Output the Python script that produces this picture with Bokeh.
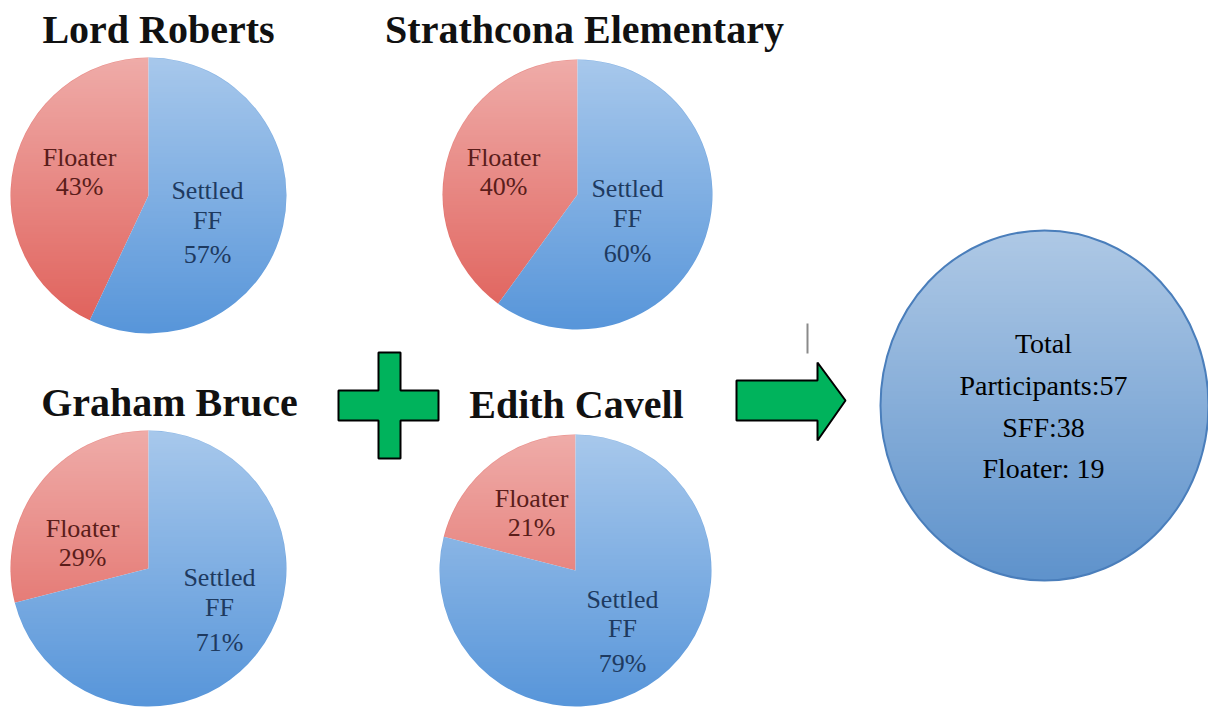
import numpy as np
from bokeh.plotting import figure
from bokeh.models import Range1d
from bokeh.core.properties import value
from bokeh.embed import file_html
from bokeh.resources import INLINE

# ---------------- data ----------------
schools = ["Lord Roberts", "Strathcona Elementary", "Graham Bruce", "Edith Cavell"]
floater_pct = [43, 40, 29, 21]
settled_pct = [57, 60, 71, 79]
floater_label = "Floater"
settled_label = ["Settled", "FF"]
total_participants = 57
total_sff = 38
total_floater = 19

# ---------------- layout (image pixel coords, y downward) ----------------
W, H = 1208, 707
pie_cx = [148, 577, 148, 575]
pie_cy = [195, 194, 568, 570]
pie_r = [138, 135, 138, 136]
title_x = [158, 584, 169, 576]
title_mid = [29, 29, 402, 404]
flo_x = [79, 503, 82, 531]
flo_mid = [157, 157, 528, 498]
set_x = [207, 627, 219, 622]
set_mid = [[190, 220, 254], [188, 218, 253], [577, 607, 642], [599, 628, 663]]
LABEL_GAP = 29

RED = "#e0605a"
BLUE = "#5896da"
RED_TXT = "#5a1d1a"
BLUE_TXT = "#1e3a60"
GREEN = "#00b35c"


def Y(v):
    return H - v


p = figure(width=W, height=H, x_range=Range1d(0, W), y_range=Range1d(0, H),
           output_backend="svg", toolbar_location=None, min_border=0,
           x_axis_type=None, y_axis_type=None, background_fill_color="white",
           border_fill_color="white")
p.grid.visible = False
p.outline_line_color = None


def shade(cx, cy, rx, ry, amax, rgb=(255, 255, 255)):
    """white vertical-gradient overlay masked to an ellipse (data coords, y up)"""
    w = int(2 * rx) + 4
    h = int(2 * ry) + 4
    x0 = cx - w / 2.0
    y0 = cy - h / 2.0
    xs = x0 + np.arange(w) + 0.5
    ys = y0 + np.arange(h) + 0.5
    X, Yg = np.meshgrid(xs, ys)
    d = np.sqrt(((X - cx) / rx) ** 2 + ((Yg - cy) / ry) ** 2)
    cov = np.clip((1 - d) * min(rx, ry) + 0.5, 0, 1)
    t = np.clip((Yg - (cy - ry)) / (2 * ry), 0, 1)
    alpha = amax * t * cov
    img = np.empty((h, w), dtype=np.uint32)
    view = img.view(dtype=np.uint8).reshape((h, w, 4))
    view[:, :, 0] = rgb[0]
    view[:, :, 1] = rgb[1]
    view[:, :, 2] = rgb[2]
    view[:, :, 3] = (alpha * 255).astype(np.uint8)
    p.image_rgba(image=[img], x=x0, y=y0, dw=w, dh=h)


# ---------------- pies ----------------
for i, name in enumerate(schools):
    cx, cy, r = pie_cx[i], Y(pie_cy[i]), pie_r[i]
    a0 = np.pi / 2
    a1 = a0 + 2 * np.pi * floater_pct[i] / 100.0
    a2 = a1 + 2 * np.pi * settled_pct[i] / 100.0
    p.wedge(x=[cx], y=[cy], radius=r, start_angle=a0, end_angle=a1,
            direction="anticlock", fill_color=RED, line_color=None)
    p.wedge(x=[cx], y=[cy], radius=r, start_angle=a1, end_angle=a2,
            direction="anticlock", fill_color=BLUE, line_color=None)
    shade(cx, cy, r, r, 0.48)

    p.text(x=[title_x[i]], y=[Y(title_mid[i])], text=[name],
           text_font=value("Liberation Serif"), text_font_style="bold",
           text_font_size="40px", text_align="center",
           text_baseline="middle", text_color="#111111")

    p.text(x=[flo_x[i], flo_x[i]],
           y=[Y(flo_mid[i]), Y(flo_mid[i] + LABEL_GAP)],
           text=[floater_label, f"{floater_pct[i]}%"],
           text_font=value("Liberation Serif"), text_font_size="26px",
           text_align="center", text_baseline="middle", text_color=RED_TXT)

    sm = set_mid[i]
    p.text(x=[set_x[i]] * 3, y=[Y(sm[0]), Y(sm[1]), Y(sm[2])],
           text=settled_label + [f"{settled_pct[i]}%"],
           text_font=value("Liberation Serif"), text_font_size="26px",
           text_align="center", text_baseline="middle", text_color=BLUE_TXT)

# ---------------- plus sign ----------------
plus_x = [378, 400, 400, 438, 438, 400, 400, 378, 378, 338, 338, 378]
plus_y = [352, 352, 390, 390, 420, 420, 458, 458, 420, 420, 390, 390]
p.patch(x=plus_x, y=[Y(v) for v in plus_y], fill_color=GREEN,
        line_color="black", line_width=2)

# ---------------- arrow ----------------
arr_x = [736, 817, 817, 845, 817, 817, 736]
arr_y = [380, 380, 362, 400, 440, 420, 420]
p.patch(x=arr_x, y=[Y(v) for v in arr_y], fill_color=GREEN,
        line_color="black", line_width=2)

# small cursor-like line
p.segment(x0=[807], y0=[Y(323)], x1=[807], y1=[Y(353)],
          line_color="#8a8a8a", line_width=2)

# ---------------- total circle ----------------
ccx, ccy, crx, cry = 1044, Y(405), 164, 175
p.ellipse(x=[ccx], y=[ccy], width=2 * crx, height=2 * cry,
          fill_color="#5f93cc", line_color=None)
shade(ccx, ccy, crx, cry, 0.5)
p.ellipse(x=[ccx], y=[ccy], width=2 * crx, height=2 * cry,
          fill_color=None, line_color="#4a7ebb", line_width=2)

total_lines = ["Total", f"Participants:{total_participants}",
               f"SFF:{total_sff}", f"Floater: {total_floater}"]
total_mid = [343, 385, 427, 468]
p.text(x=[1043] * 4, y=[Y(v) for v in total_mid], text=total_lines,
       text_font=value("Liberation Serif"), text_font_size="28px",
       text_align="center", text_baseline="middle", text_color="black")

open("out.html", "w").write(file_html(p, INLINE))
